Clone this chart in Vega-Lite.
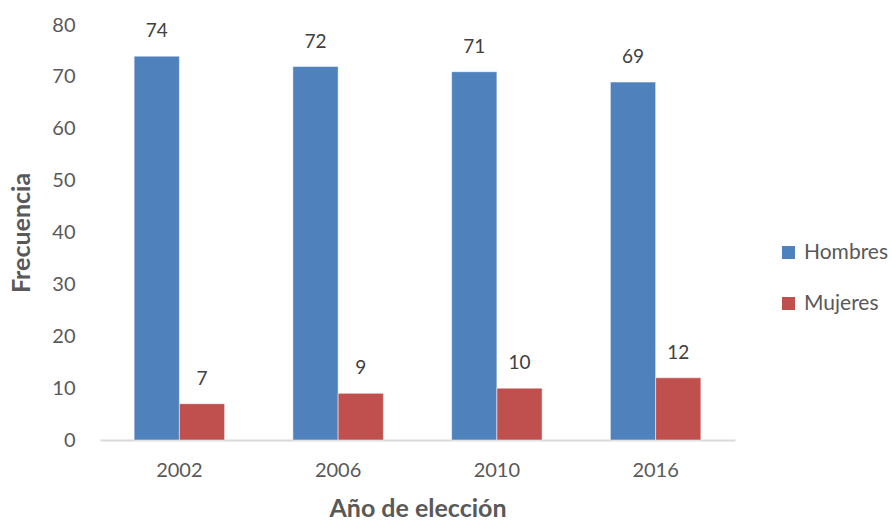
{
  "$schema": "https://vega.github.io/schema/vega-lite/v6.json",
  "width": 635,
  "height": 415,
  "autosize": {"type": "none"},
  "padding": {"left": 100, "top": 25, "right": 157, "bottom": 82},
  "background": "white",
  "config": {
    "view": {"stroke": null},
    "font": "Lato",
    "axis": {"labelFont": "Lato", "titleFont": "Lato"},
    "legend": {"labelFont": "Lato"}
  },
  "data": {
    "values": [
      {"anio": "2002", "sexo": "Hombres", "frecuencia": 74},
      {"anio": "2002", "sexo": "Mujeres", "frecuencia": 7},
      {"anio": "2006", "sexo": "Hombres", "frecuencia": 72},
      {"anio": "2006", "sexo": "Mujeres", "frecuencia": 9},
      {"anio": "2010", "sexo": "Hombres", "frecuencia": 71},
      {"anio": "2010", "sexo": "Mujeres", "frecuencia": 10},
      {"anio": "2016", "sexo": "Hombres", "frecuencia": 69},
      {"anio": "2016", "sexo": "Mujeres", "frecuencia": 12}
    ]
  },
  "encoding": {
    "x": {
      "field": "anio",
      "type": "nominal",
      "title": "Año de elección",
      "scale": {"paddingInner": 0.43, "paddingOuter": 0.215},
      "axis": {
        "labelAngle": 0,
        "labelFontSize": 20,
        "labelColor": "#595959",
        "labelPadding": 20,
        "ticks": false,
        "domainColor": "#D9D9D9",
        "domainWidth": 2,
        "titleFontSize": 25,
        "titleFontWeight": "bold",
        "titleColor": "#595959",
        "titlePadding": 16
      }
    },
    "xOffset": {"field": "sexo", "type": "nominal", "scale": {"paddingInner": 0}},
    "y": {
      "field": "frecuencia",
      "type": "quantitative",
      "title": "Frecuencia",
      "scale": {"domain": [0, 80]},
      "axis": {
        "values": [0, 10, 20, 30, 40, 50, 60, 70, 80],
        "grid": false,
        "domain": false,
        "ticks": false,
        "labelFontSize": 20,
        "labelColor": "#595959",
        "labelPadding": 25,
        "titleFontSize": 25,
        "titleFontWeight": "bold",
        "titleColor": "#595959",
        "titlePadding": 17
      }
    }
  },
  "layer": [
    {
      "mark": {"type": "bar", "stroke": "white", "strokeWidth": 0.5},
      "encoding": {
        "color": {
          "field": "sexo",
          "type": "nominal",
          "title": null,
          "scale": {"domain": ["Hombres", "Mujeres"], "range": ["#4F81BD", "#C0504D"]},
          "legend": {
            "orient": "none",
            "legendX": 678,
            "legendY": 217,
            "symbolType": "square",
            "symbolSize": 169,
            "symbolStrokeWidth": 0,
            "labelFontSize": 21,
            "labelColor": "#595959",
            "labelOffset": 5,
            "rowPadding": 29
          }
        }
      }
    },
    {
      "mark": {"type": "text", "dy": -25, "fontSize": 19, "color": "#404040", "baseline": "middle"},
      "encoding": {
        "text": {"field": "frecuencia", "type": "quantitative"}
      }
    }
  ]
}
